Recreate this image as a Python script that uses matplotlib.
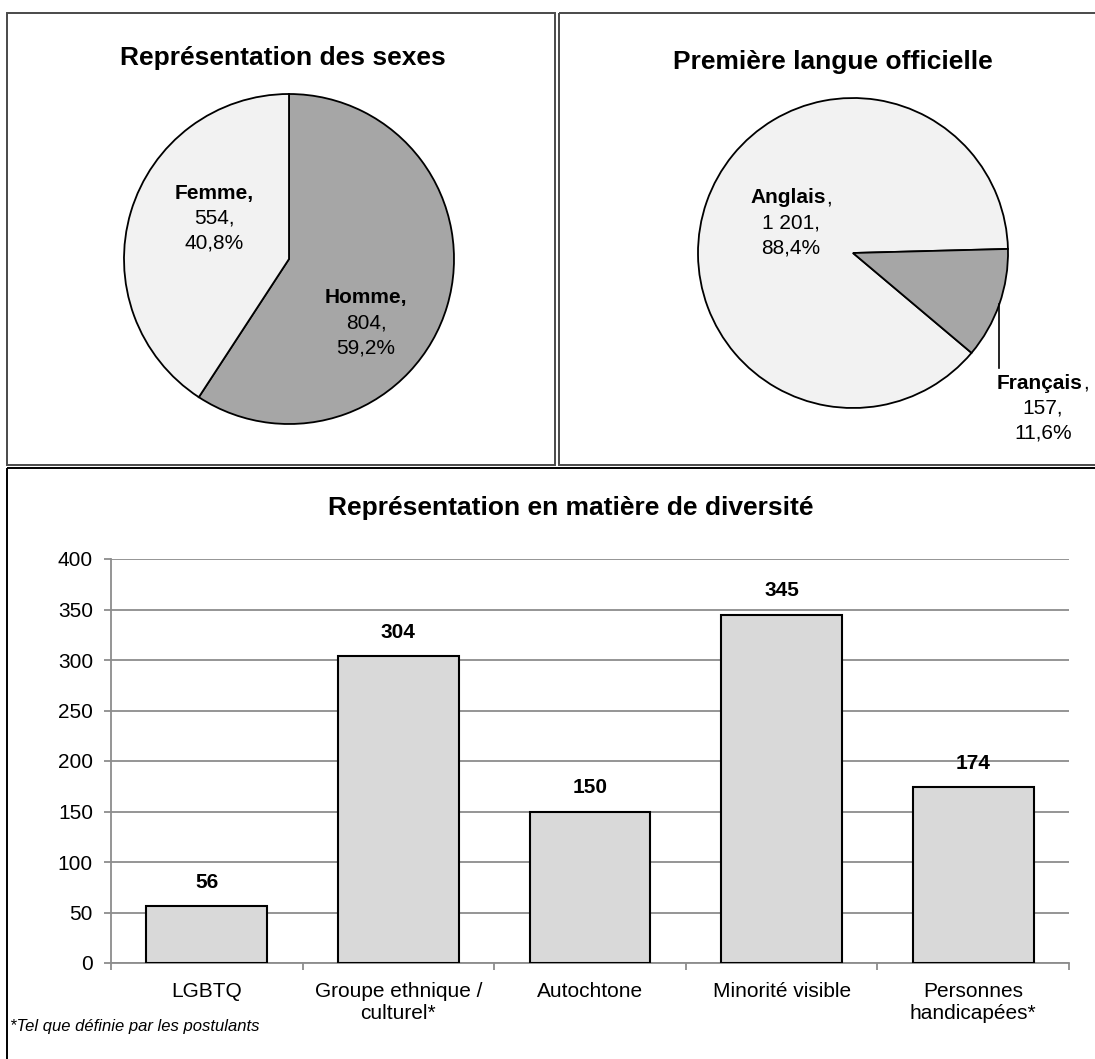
import numpy as np
import matplotlib.pyplot as plt
from matplotlib.patches import Rectangle

plt.rcParams['font.family'] = ['Liberation Sans', 'DejaVu Sans']

# Représentation des sexes
sexe_noms = ['Homme', 'Femme']
sexe_valeurs = [804, 554]

# Première langue officielle
langue_noms = ['Anglais', 'Français']
langue_valeurs = [1201, 157]

# Représentation en matière de diversité
diversite_noms = ['LGBTQ', 'Groupe ethnique /\nculturel*', 'Autochtone',
                  'Minorité visible', 'Personnes\nhandicapées*']
diversite_valeurs = [56, 304, 150, 345, 174]

W, H = 1095, 1059
fig = plt.figure(figsize=(W / 100, H / 100), dpi=100)


def px_axes(x0, y0, x1, y1):
    # axes placed with pixel coordinates measured from the top-left corner
    return fig.add_axes([x0 / W, 1 - y1 / H, (x1 - x0) / W, (y1 - y0) / H])


def fmt_n(n):
    return f'{n:,}'.replace(',', ' ')


def fmt_pct(v, total):
    return f'{100 * v / total:.1f}%'.replace('.', ',')


# cadres des trois graphiques
bg = fig.add_axes([0, 0, 1, 1], zorder=-1)
bg.set_xlim(0, W)
bg.set_ylim(H, 0)
bg.axis('off')
bg.add_patch(Rectangle((7, 13), 548, 452, fill=False, ec='#4a4a4a', lw=1.4))
bg.add_patch(Rectangle((559, 13), 560, 452, fill=False, ec='#4a4a4a', lw=1.4))
bg.add_patch(Rectangle((7, 468), 1110, 600, fill=False, ec='black', lw=1.4))

PAD = 1.04


def pie_axes(cx, cy, r):
    ax = px_axes(cx - r * PAD, cy - r * PAD, cx + r * PAD, cy + r * PAD)
    return ax


def pie_label(ax, x, y, nom, valeur, total, r_px, virgule_grasse=True):
    step = 25 / r_px
    if virgule_grasse:
        ax.text(x, y, nom + ',', ha='center', va='center', fontsize=15,
                fontweight='bold')
    else:
        t = ax.text(x - 3 / r_px, y, nom, ha='center', va='center',
                    fontsize=15, fontweight='bold')
        ax.annotate(',', xy=(1, 0), xycoords=t, ha='left', va='bottom',
                    fontsize=15)
    ax.text(x, y - step, fmt_n(valeur) + ',', ha='center', va='center',
            fontsize=15)
    ax.text(x, y - 2 * step, fmt_pct(valeur, total), ha='center',
            va='center', fontsize=15)


# --- sexes ---
r1 = 165
ax1 = pie_axes(289, 259, r1)
ax1.pie(sexe_valeurs, colors=['#a6a6a6', '#f2f2f2'], startangle=90,
        counterclock=False, radius=1,
        wedgeprops=dict(edgecolor='black', linewidth=1.3))
ax1.set_xlim(-PAD, PAD)
ax1.set_ylim(-PAD, PAD)
tot1 = sum(sexe_valeurs)
pie_label(ax1, 0.467, -0.236, sexe_noms[0], sexe_valeurs[0], tot1, r1)
pie_label(ax1, -0.455, 0.40, sexe_noms[1], sexe_valeurs[1], tot1, r1)
fig.text(283 / W, 1 - 58 / H, 'Représentation des sexes', ha='center',
         va='center', fontsize=19, fontweight='bold')

# --- langue ---
r2 = 155
ax2 = pie_axes(853, 253, r2)
ax2.pie(langue_valeurs, colors=['#f2f2f2', '#a6a6a6'], startangle=1.5,
        counterclock=True, radius=1,
        wedgeprops=dict(edgecolor='black', linewidth=1.3))
ax2.set_xlim(-PAD, PAD)
ax2.set_ylim(-PAD, PAD)
tot2 = sum(langue_valeurs)
pie_label(ax2, -0.40, 0.355, langue_noms[0], langue_valeurs[0], tot2, r2,
          virgule_grasse=False)
pie_label(ax2, 1.226, -0.839, langue_noms[1], langue_valeurs[1], tot2, r2,
          virgule_grasse=False)
ax2.plot([0.942, 0.942], [-0.33, -0.74], color='black', lw=1.2)
fig.text(833 / W, 1 - 62 / H, 'Première langue officielle', ha='center',
         va='center', fontsize=19, fontweight='bold')

# --- diversité ---
axb = px_axes(111, 559, 1069, 963)
x = np.arange(len(diversite_valeurs))
axb.bar(x, diversite_valeurs, width=0.63, color='#d9d9d9', edgecolor='black',
        linewidth=1.5, zorder=3)
for xi, v in zip(x, diversite_valeurs):
    axb.annotate(str(v), (xi, v), xytext=(0, 17), textcoords='offset points',
                 ha='center', va='center', fontsize=15, fontweight='bold')
axb.set_xlim(-0.5, len(x) - 0.5)
axb.set_ylim(0, 400)
axb.set_yticks(np.arange(0, 401, 50))
axb.yaxis.grid(True, color='#8c8c8c', lw=1.3, zorder=0)
axb.set_axisbelow(True)
for s in ['top', 'right']:
    axb.spines[s].set_visible(False)
for s in ['left', 'bottom']:
    axb.spines[s].set_color('#8c8c8c')
    axb.spines[s].set_linewidth(1.3)
axb.set_xticks(x)
axb.set_xticklabels(diversite_noms)
axb.set_xticks(np.arange(-0.5, len(x)), minor=True)
axb.tick_params(axis='x', which='major', length=0, pad=14, labelsize=15)
axb.tick_params(axis='x', which='minor', length=5, width=1.3,
                color='#8c8c8c', direction='out')
axb.tick_params(axis='y', length=5, width=1.3, color='#8c8c8c', pad=8,
                labelsize=15)
for lab in axb.get_xticklabels():
    lab.set_linespacing(1.15)

fig.text(571 / W, 1 - 508 / H, 'Représentation en matière de diversité',
         ha='center', va='center', fontsize=19, fontweight='bold')
fig.text(10 / W, 1 - 1026 / H, '*Tel que définie par les postulants',
         ha='left', va='center', fontsize=12, style='italic')

fig.savefig('out.png', dpi=100)
